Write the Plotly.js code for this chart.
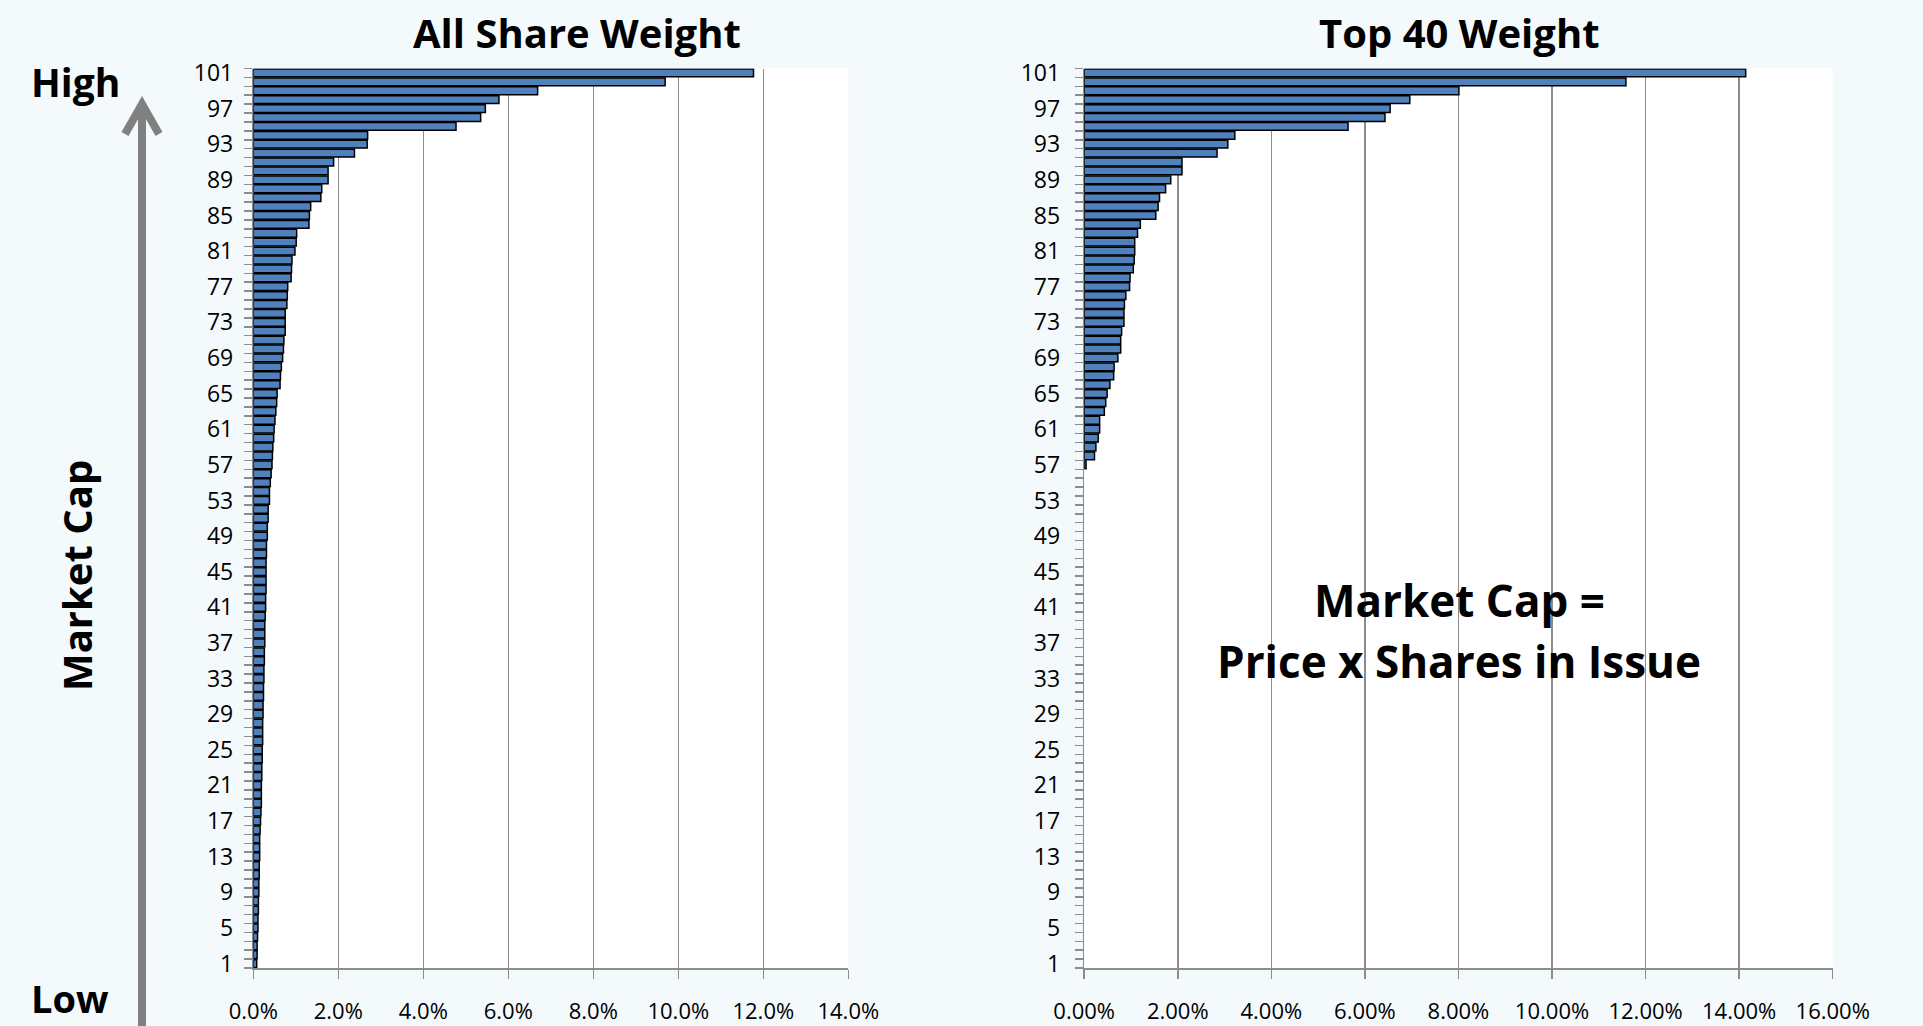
<!DOCTYPE html>
<html>
<head>
<meta charset="utf-8">
<script src="https://cdn.plot.ly/plotly-3.0.1.min.js"></script>
<style>
  html, body { margin: 0; padding: 0; background: #f4f9fc; }
  #chart { width: 1923px; height: 1026px; }
</style>
</head>
<body>
<div id="chart"></div>
<script>
// weight (%) of each share, rank 1 (smallest market cap) .. 101 (largest)
const allShareWeight = [
    0.08, 0.09, 0.09, 0.10, 0.11, 0.11, 0.12, 0.12, 0.13, 0.13,
    0.14, 0.14, 0.15, 0.15, 0.15, 0.16, 0.17, 0.18, 0.19, 0.19,
    0.19, 0.20, 0.20, 0.21, 0.21, 0.22, 0.22, 0.22, 0.23, 0.23,
    0.24, 0.24, 0.25, 0.25, 0.26, 0.26, 0.27, 0.27, 0.27, 0.28,
    0.29, 0.29, 0.30, 0.30, 0.30, 0.30, 0.31, 0.31, 0.33, 0.33,
    0.35, 0.35, 0.38, 0.38, 0.40, 0.42, 0.44, 0.45, 0.46, 0.48,
    0.49, 0.51, 0.53, 0.55, 0.56, 0.63, 0.64, 0.66, 0.69, 0.71,
    0.72, 0.75, 0.75, 0.75, 0.79, 0.80, 0.81, 0.89, 0.90, 0.91,
    0.98, 1.01, 1.02, 1.31, 1.32, 1.35, 1.59, 1.61, 1.76, 1.76,
    1.89, 2.38, 2.68, 2.69, 4.77, 5.35, 5.46, 5.78, 6.69, 9.69,
    11.77
];

// Top 40 weight (%), ranks 57 .. 101
const topFortyWeight = [
    0.04, 0.22, 0.25, 0.30, 0.33, 0.33, 0.43, 0.46, 0.49, 0.55,
    0.63, 0.64, 0.72, 0.78, 0.78, 0.80, 0.85, 0.85, 0.86, 0.89,
    0.97, 0.98, 1.05, 1.07, 1.08, 1.08, 1.14, 1.20, 1.53, 1.58,
    1.61, 1.74, 1.85, 2.09, 2.09, 2.84, 3.07, 3.22, 5.64, 6.43,
    6.54, 6.96, 8.01, 11.58, 14.14
];

const ranks = allShareWeight.map((v, i) => i + 1);
const topFortyRanks = ranks.slice(ranks.length - topFortyWeight.length);

const yTickLabels = [1, 5, 9, 13, 17, 21, 25, 29, 33, 37, 41, 45, 49, 53,
    57, 61, 65, 69, 73, 77, 81, 85, 89, 93, 97, 101];

const W = 1923, H = 1026;
const px = x => x / W;
const py = y => 1 - y / H;

const fontFam = '"Open Sans", "Liberation Sans", sans-serif';
const gridGrey = "#8c8c8c";
const barBlue = "#4f81bd";

function barTrace(values, cats, xa, ya) {
    return {
        type: "bar",
        orientation: "h",
        x: values,
        y: cats,
        xaxis: xa,
        yaxis: ya,
        marker: { color: barBlue, line: { color: "#000000", width: 1.5 } },
        hoverinfo: "x+y"
    };
}

function rankAxis(standoff) {
    return {
        domain: [py(968), py(68.5)],
        range: [0.5, 101.5],
        tickmode: "array",
        tickvals: yTickLabels,
        ticktext: yTickLabels.map(String),
        ticks: "outside",
        ticklen: 8,
        tickcolor: "rgba(0,0,0,0)",
        ticklabelstandoff: standoff,
        minor: { tick0: 0.5, dtick: 1, ticks: "outside", ticklen: 8, tickwidth: 1.5, tickcolor: gridGrey, showgrid: false },
        showgrid: false,
        zeroline: false,
        showline: true,
        linecolor: gridGrey,
        linewidth: 1.5,
        tickfont: { family: fontFam, size: 23, color: "#000" },
        fixedrange: true
    };
}

function weightAxis(x0, x1, maxVal, decimals) {
    return {
        domain: [px(x0), px(x1)],
        range: [0, maxVal],
        dtick: 2,
        tick0: 0,
        tickformat: "." + decimals + "f",
        ticksuffix: "%",
        ticks: "outside",
        ticklen: 9,
        tickwidth: 1.5,
        tickcolor: gridGrey,
        ticklabelstandoff: 14,
        showgrid: true,
        gridcolor: gridGrey,
        gridwidth: 1.5,
        zeroline: false,
        showline: true,
        linecolor: gridGrey,
        linewidth: 1.5,
        tickfont: { family: fontFam, size: 22, color: "#000" },
        fixedrange: true
    };
}

const traces = [
    barTrace(allShareWeight, ranks, "x", "y"),
    barTrace(topFortyWeight, topFortyRanks, "x2", "y2")
];

function label(text, x, y, size, extra) {
    return Object.assign({
        text: text,
        xref: "paper", yref: "paper",
        x: px(x), y: py(y),
        xanchor: "center", yanchor: "middle",
        showarrow: false,
        font: { family: fontFam, size: size, color: "#000" }
    }, extra || {});
}

const layout = {
    width: W,
    height: H,
    margin: { l: 0, r: 0, t: 0, b: 0 },
    paper_bgcolor: "#f4f9fc",
    plot_bgcolor: "#ffffff",
    showlegend: false,
    bargap: 0.12,
    xaxis: Object.assign(weightAxis(253.3, 848.3, 14, 1), { anchor: "y" }),
    yaxis: Object.assign(rankAxis(6), { anchor: "x" }),
    xaxis2: Object.assign(weightAxis(1084.2, 1832.7, 16, 2), { anchor: "y2" }),
    yaxis2: Object.assign(rankAxis(10), { anchor: "x2" }),
    annotations: [
        label("<b>All Share Weight</b>", 577, 32, 40),
        label("<b>Top 40 Weight</b>", 1459, 32, 40),
        label("<b>High</b>", 75, 81, 39),
        label("<b>Low</b>", 70, 998, 38),
        label("<b>Market Cap</b>", 76, 576, 40, { textangle: -90 }),
        label("<b>Market Cap =</b>", 1459, 600, 44),
        label("<b>Price x Shares in Issue</b>", 1459, 661, 44)
    ],
    shapes: [
        // the grey "market cap" arrow at the left
        {
            type: "line", xref: "paper", yref: "paper",
            x0: px(142), x1: px(142), y0: py(1026), y1: py(106),
            line: { color: "#808080", width: 8 }
        },
        {
            type: "path", xref: "paper", yref: "paper",
            path: "M " + px(125) + " " + py(134) + " L " + px(142) + " " + py(104) +
                  " L " + px(159) + " " + py(134),
            line: { color: "#808080", width: 8 }
        }
    ]
};

Plotly.newPlot("chart", traces, layout, { displayModeBar: false, staticPlot: true });
</script>
</body>
</html>
